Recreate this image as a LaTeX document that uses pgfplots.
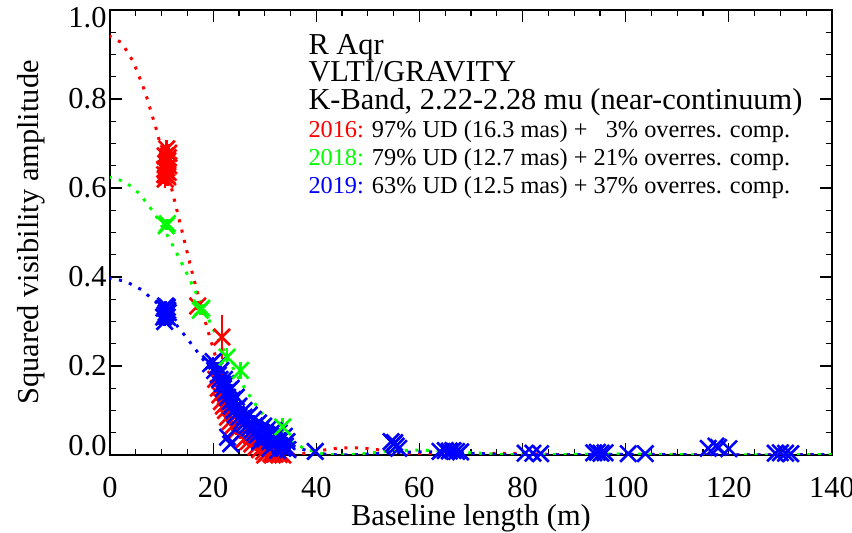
\documentclass[border=0pt]{standalone}
\usepackage{pgfplots}
\pgfplotsset{compat=1.18}
\usepackage{fontspec}
\setmainfont{Liberation Serif}
\newcommand{\bigf}{\fontsize{30.5}{36}\selectfont}
\newcommand{\smallf}{\fontsize{24.4}{28}\selectfont}
\begin{document}
\begin{tikzpicture}
\useasboundingbox (0,0) rectangle (852bp,533bp);
\begin{axis}[
  at={(110bp,78bp)}, anchor=south west,
  width=722bp, height=445bp, scale only axis,
  xmin=0, xmax=140, ymin=0, ymax=1,
  xtick={0,20,40,60,80,100,120,140},
  ytick={0,0.2,0.4,0.6,0.8,1},
  yticklabels={\raisebox{9bp}[\height][\depth]{0.0},0.2,0.4,0.6,0.8,\raisebox{-8bp}[\height][\depth]{1.0}},
  minor x tick num=3, minor y tick num=3,
  tick align=inside,
  major tick length=12bp, minor tick length=6bp,
  axis line style={line width=1.2bp},
  tick style={line width=1.2bp, black},
  xlabel={Baseline length (m)},
  ylabel={Squared visibility amplitude},
  xlabel style={at={(axis description cs:0.5,0)}, anchor=base, yshift=-70bp},
  ylabel style={at={(axis description cs:-0.0997,0.5)}, anchor=base},
  ticklabel style={font=\bigf},
  label style={font=\bigf},
  xticklabel style={anchor=base, yshift=-42bp},
  /pgf/number format/assume math mode=true,
  every axis plot/.append style={mark size=11.5bp, line width=2.6bp},
  error bars/error bar style={line width=2.6bp},
  error bars/error mark=none,
]
% uniform-disc model curves
\addplot[red, no marks, line width=3bp, line cap=rect, dash pattern=on 0.1bp off 10.5bp] coordinates {
(0,0.9409)(2.27,0.9264)(4.53,0.8836)(6.80,0.8161)(9.06,0.7288)(11.33,0.6280)(13.59,0.5207)
(15.86,0.4135)(18.13,0.3130)(20.39,0.2243)(22.66,0.1488)(24.92,0.0898)(27.19,0.0481)
(29.45,0.0211)(31.72,0.0058)(33.99,0.0003)(34.73,0)(36.25,0.0010)(38.52,0.0047)(40.78,0.0099)
(43.05,0.0140)(45.32,0.0162)(47.58,0.0162)(49.85,0.0145)(52.11,0.0116)(54.38,0.0080)
(56.65,0.0046)(58.91,0.0021)(63.44,0.0000)(67.97,0.0012)(72.50,0.0032)(77.04,0.0039)
(81.57,0.0028)(86.10,0.0011)(90.63,0.0001)(95.16,0.0002)(99.69,0.0010)(104.22,0.0015)
(108.76,0.0013)(113.29,0.0007)(117.82,0.0001)(122.35,0.0000)(126.88,0.0003)(131.41,0.0007)
(135.95,0.0007)(140,0.0005)};
\addplot[green, no marks, line width=3bp, line cap=rect, dash pattern=on 0.1bp off 10.5bp] coordinates {
(0,0.6241)(2.91,0.6145)(5.82,0.5861)(8.72,0.5413)(11.63,0.4834)(14.54,0.4166)(17.45,0.3454)
(20.36,0.2743)(23.26,0.2076)(26.17,0.1488)(29.08,0.0987)(31.99,0.0595)(34.90,0.0319)
(37.80,0.0140)(40.71,0.0038)(43.62,0.0002)(44.57,0)(46.53,0.0007)(49.44,0.0031)(52.34,0.0066)
(55.25,0.0093)(58.16,0.0107)(61.07,0.0108)(63.98,0.0096)(66.88,0.0077)(69.79,0.0053)
(75.61,0.0014)(81.42,0)(87.24,0.0008)(93.06,0.0021)(98.87,0.0026)(104.69,0.0019)
(110.50,0.0007)(116.32,0)(122.14,0.0001)(127.95,0.0006)(133.77,0.0010)(140,0.0009)};
\addplot[blue, no marks, line width=3bp, line cap=rect, dash pattern=on 0.1bp off 10.5bp] coordinates {
(0,0.3969)(2.95,0.3908)(5.91,0.3727)(8.86,0.3442)(11.82,0.3074)(14.77,0.2649)(17.73,0.2197)
(20.68,0.1744)(23.64,0.1320)(26.59,0.0946)(29.55,0.0628)(32.50,0.0379)(35.46,0.0203)
(38.41,0.0089)(41.37,0.0024)(44.32,0.0001)(45.29,0)(47.28,0.0004)(50.23,0.0020)(53.19,0.0042)
(56.14,0.0059)(59.10,0.0068)(62.05,0.0069)(65.00,0.0061)(67.96,0.0049)(70.91,0.0034)
(76.82,0.0009)(82.73,0)(88.64,0.0005)(94.55,0.0014)(100.46,0.0016)(106.37,0.0012)
(112.28,0.0005)(118.19,0)(124.10,0.0001)(130.01,0.0004)(135.92,0.0006)(140,0.0006)};
% 2016
\addplot[red, only marks, mark=x, error bars/.cd, y dir=both, y explicit] coordinates {
(10.7,0.620)+-(0,0.02)(11.0,0.628)+-(0,0.02)(11.3,0.635)+-(0,0.02)(10.6,0.642)+-(0,0.02)
(11.4,0.650)+-(0,0.02)(10.8,0.655)+-(0,0.02)(11.1,0.660)+-(0,0.02)(11.3,0.668)+-(0,0.02)
(10.7,0.672)+-(0,0.02)(11.4,0.678)+-(0,0.02)(11.0,0.645)+-(0,0.02)(10.9,0.638)+-(0,0.02)
(11.2,0.625)+-(0,0.02)(11.0,0.688)+-(0,0.02)(10.6,0.630)+-(0,0.02)(11.2,0.662)+-(0,0.02)
(17.0,0.335)+-(0,0.01)(21.7,0.265)+-(0,0.05)
(20.5,0.170)+-(0,0.01)(21.0,0.150)+-(0,0.01)(21.3,0.135)+-(0,0.01)(21.6,0.120)+-(0,0.01)
(22.0,0.110)+-(0,0.01)(22.4,0.100)+-(0,0.01)(22.8,0.085)+-(0,0.01)(23.3,0.075)+-(0,0.01)
(23.8,0.065)+-(0,0.01)(24.5,0.055)+-(0,0.01)(25.2,0.045)+-(0,0.01)(26.0,0.035)+-(0,0.01)
(26.8,0.030)+-(0,0.01)(27.5,0.025)+-(0,0.01)(28.3,0.018)+-(0,0.01)(29.0,0.012)+-(0,0.01)
(29.8,0.008)+-(0,0.01)(30.5,0.005)+-(0,0.01)(31.2,0.003)+-(0,0.01)(32.0,0.002)+-(0,0.01)
(32.8,0.001)+-(0,0.01)(33.5,0.000)+-(0,0.01)(30.0,0.000)+-(0,0.01)(31.5,0.000)+-(0,0.01)};
% 2019
\addplot[blue, only marks, mark=x, error bars/.cd, y dir=both, y explicit] coordinates {
(10.4,0.310)+-(0,0.01)(10.7,0.315)+-(0,0.01)(10.9,0.320)+-(0,0.01)(11.2,0.325)+-(0,0.01)
(10.5,0.330)+-(0,0.01)(10.8,0.335)+-(0,0.01)(11.1,0.310)+-(0,0.01)(11.3,0.320)+-(0,0.01)
(10.6,0.300)+-(0,0.01)(11.1,0.332)+-(0,0.01)
(19.5,0.205)+-(0,0.01)(20.0,0.210)+-(0,0.01)(20.3,0.190)+-(0,0.01)(20.8,0.200)+-(0,0.01)
(21.0,0.180)+-(0,0.01)(21.3,0.170)+-(0,0.01)(21.5,0.190)+-(0,0.01)(21.8,0.160)+-(0,0.01)
(22.0,0.150)+-(0,0.01)(22.2,0.170)+-(0,0.01)(22.5,0.140)+-(0,0.01)(22.8,0.130)+-(0,0.01)
(23.0,0.145)+-(0,0.01)(23.3,0.120)+-(0,0.01)(23.5,0.110)+-(0,0.01)(23.8,0.125)+-(0,0.01)
(24.0,0.100)+-(0,0.01)(24.3,0.090)+-(0,0.01)(24.6,0.105)+-(0,0.01)(25.0,0.085)+-(0,0.01)
(25.5,0.075)+-(0,0.01)(26.0,0.070)+-(0,0.01)(26.5,0.065)+-(0,0.01)(27.0,0.060)+-(0,0.01)
(27.5,0.055)+-(0,0.01)(28.0,0.050)+-(0,0.01)(28.5,0.045)+-(0,0.01)(29.0,0.050)+-(0,0.01)
(29.5,0.040)+-(0,0.01)(30.0,0.035)+-(0,0.01)(30.5,0.045)+-(0,0.01)(31.0,0.030)+-(0,0.01)
(31.5,0.035)+-(0,0.01)(32.0,0.025)+-(0,0.01)(32.5,0.030)+-(0,0.01)(33.0,0.020)+-(0,0.01)
(33.5,0.015)+-(0,0.01)(34.0,0.020)+-(0,0.01)(29.0,0.030)+-(0,0.01)(31.0,0.015)+-(0,0.01)
(32.5,0.010)+-(0,0.01)
(25.0,0.110)+-(0,0.01)(26.0,0.100)+-(0,0.01)(27.0,0.090)+-(0,0.01)(27.8,0.080)+-(0,0.01)
(28.8,0.072)+-(0,0.01)(29.8,0.065)+-(0,0.01)(30.8,0.060)+-(0,0.01)(31.8,0.055)+-(0,0.01)
(32.8,0.050)+-(0,0.01)(33.8,0.042)+-(0,0.01)(33.2,0.035)+-(0,0.01)(34.3,0.030)+-(0,0.01)
(34.5,0.012)+-(0,0.01)(26.0,0.085)+-(0,0.01)(28.0,0.065)+-(0,0.01)(30.0,0.050)+-(0,0.01)
(22.5,0.160)+-(0,0.01)(23.5,0.150)+-(0,0.01)(24.5,0.130)+-(0,0.01)
(22.8,0.040)+-(0,0.005)(23.4,0.025)+-(0,0.005)(39.8,0.008)+-(0,0.003)
(54.5,0.030)+-(0,0.005)(55.0,0.025)+-(0,0.005)(55.5,0.020)+-(0,0.005)(56.0,0.015)+-(0,0.005)
(55.2,0.028)+-(0,0.005)
(64.0,0.008)+-(0,0.003)(65.0,0.010)+-(0,0.003)(65.8,0.009)+-(0,0.003)(66.5,0.010)+-(0,0.003)
(67.2,0.008)+-(0,0.003)(68.0,0.007)+-(0,0.003)
(80.5,0.004)+-(0,0.003)(82.0,0.004)+-(0,0.003)(83.5,0.003)+-(0,0.003)
(93.8,0.005)+-(0,0.003)(94.5,0.006)+-(0,0.003)(95.2,0.004)+-(0,0.003)(96.0,0.005)+-(0,0.003)
(100.5,0.003)+-(0,0.003)(103.8,0.003)+-(0,0.003)
(116.0,0.015)+-(0,0.003)(117.5,0.020)+-(0,0.003)(118.0,0.017)+-(0,0.003)(120.0,0.014)+-(0,0.003)
(129.0,0.004)+-(0,0.003)(130.0,0.005)+-(0,0.003)(131.0,0.004)+-(0,0.003)(132.0,0.003)+-(0,0.003)};
% 2018
\addplot[green, only marks, mark=x, error bars/.cd, y dir=both, y explicit] coordinates {
(10.9,0.515)+-(0,0.01)(11.1,0.520)+-(0,0.01)(17.5,0.325)+-(0,0.01)(17.8,0.330)+-(0,0.01)
(22.7,0.220)+-(0,0.02)(25.3,0.190)+-(0,0.02)(33.5,0.063)+-(0,0.02)};
\end{axis}
\node[anchor=base west, font=\bigf] at (305bp,478bp) {R Aqr};
\node[anchor=base west, font=\bigf] at (305bp,451bp) {VLTI/GRAVITY};
\node[anchor=base west, font=\bigf] at (305bp,423bp) {K-Band, 2.22-2.28 mu (near-continuum)};
\node[anchor=base west, font=\smallf] at (305bp,395bp) {\textcolor{red}{2016:} 97\% UD (16.3 mas) + \phantom{2}3\% overres. comp.};
\node[anchor=base west, font=\smallf] at (305bp,367bp) {\textcolor{green}{2018:} 79\% UD (12.7 mas) + 21\% overres. comp.};
\node[anchor=base west, font=\smallf] at (305bp,339bp) {\textcolor{blue}{2019:} 63\% UD (12.5 mas) + 37\% overres. comp.};
\end{tikzpicture}
\end{document}
